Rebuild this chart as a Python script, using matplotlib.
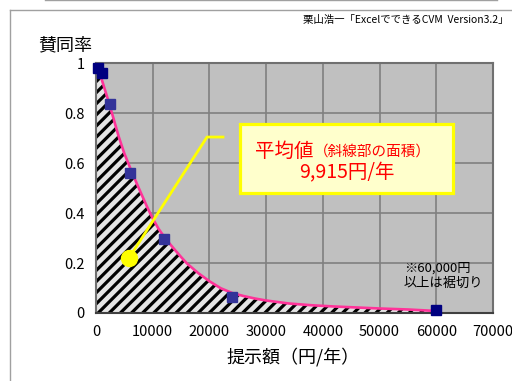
import matplotlib
matplotlib.use("Agg")
import matplotlib.pyplot as plt
from matplotlib.patches import Rectangle
from matplotlib.lines import Line2D

plt.rcParams['font.family'] = ['Noto Sans CJK JP', 'DejaVu Sans']
plt.rcParams['hatch.linewidth'] = 2.3
plt.rcParams['hatch.color'] = 'black'

# bid amounts (yen/year) and observed acceptance rates
bids = [300, 1000, 2500, 6000, 12000, 24000, 60000]
rates = [0.98, 0.96, 0.835, 0.56, 0.295, 0.065, 0.01]

# fitted acceptance curve
curve_x = [0, 1000, 2000, 3000, 4000, 5000, 6000, 7000, 8000, 9000, 10000,
           11000, 12000, 13000, 14000, 15000, 16000, 18000, 20000, 22000,
           24000, 26000, 28000, 30000, 34000, 38000, 42000, 46000, 50000,
           55000, 60000]
curve_y = [1.0, 0.935, 0.862, 0.785, 0.706, 0.638, 0.582, 0.528, 0.476,
           0.425, 0.378, 0.338, 0.305, 0.277, 0.25, 0.224, 0.199, 0.16,
           0.127, 0.099, 0.08, 0.068, 0.058, 0.05, 0.038, 0.031, 0.026,
           0.022, 0.018, 0.014, 0.008]

mean_wtp = "9,915円/年"
x_ticks = [0, 10000, 20000, 30000, 40000, 50000, 60000, 70000]
y_ticks = [0, 0.2, 0.4, 0.6, 0.8, 1]
y_labels = ['0', '0.2', '0.4', '0.6', '0.8', '1']

fig = plt.figure(figsize=(5.12, 3.81), dpi=100)
ax = fig.add_axes([0.1875, 0.1785, 0.7754, 0.656])
ax.set_facecolor('#c0c0c0')

# hatched area under the curve
ax.fill_between(curve_x, curve_y, 0, facecolor='#e4e4e4', hatch='///',
                edgecolor='black', linewidth=0, zorder=2)
ax.plot(curve_x, curve_y, color='#ff3399', lw=1.9, zorder=3)

marker_colors = ['#000080', '#000080', '#333399', '#333399', '#333399',
                 '#333399', '#000080']
for bx, r, c in zip(bids, rates, marker_colors):
    ax.plot(bx, r, marker='s', markersize=7.5, color=c, mec=c, zorder=5,
            clip_on=False)

ax.set_xlim(0, 70000)
ax.set_ylim(0, 1)
ax.set_xticks(x_ticks)
ax.set_xticklabels([str(t) for t in x_ticks])
ax.set_yticks(y_ticks)
ax.set_yticklabels(y_labels)
ax.grid(True, color='#808080', lw=1.2, zorder=1)
ax.set_axisbelow(True)
ax.tick_params(length=0, labelsize=10.5)
ax.tick_params(axis='x', pad=9)
ax.tick_params(axis='y', pad=8)
for s in ax.spines.values():
    s.set_color('#707070')
    s.set_linewidth(1.5)
ax.spines['bottom'].set_color('#404040')

# callout box with the mean value
ax.add_patch(Rectangle((25390, 0.48), 37560, 0.276, facecolor='#ffffcc',
                       edgecolor='#ffff00', lw=2.3, zorder=6))
ax.text(28000, 0.645, '平均値', color='red', fontsize=14, va='center',
        ha='left', zorder=7)
ax.text(38400, 0.645, '（斜線部の面積）', color='red', fontsize=10.5,
        va='center', ha='left', zorder=7)
ax.text(44200, 0.562, mean_wtp, color='red', fontsize=14, va='center',
        ha='center', zorder=7)

ax.plot([5820, 19570, 22390], [0.22, 0.704, 0.704], color='#ffff00', lw=2,
        zorder=6)
ax.plot(5820, 0.22, marker='o', markersize=11.5, color='#ffff00', zorder=6)

ax.text(54300, 0.148, '※60,000円\n以上は裾切り', fontsize=9.5, ha='left',
        va='center', linespacing=1.25, zorder=7)

fig.text(0.074, 0.882, '賛同率', fontsize=13, ha='left', va='center')
fig.text(0.573, 0.063, '提示額（円/年）', fontsize=13, ha='center',
         va='center')
fig.text(0.994, 0.947, '栗山浩一「ExcelでできるCVM  Version3.2」', fontsize=7.5,
         ha='right', va='center')

# outer frame lines
fig.add_artist(Line2D([0.0195, 0.0195], [0, 0.9738], color='#a0a0a0', lw=1))
fig.add_artist(Line2D([0.0195, 1], [0.9738, 0.9738], color='#a0a0a0', lw=1))
fig.add_artist(Line2D([0.088, 0.971], [0.999, 0.999], color='#a0a0a0', lw=1))

fig.savefig('out.png', dpi=100)
